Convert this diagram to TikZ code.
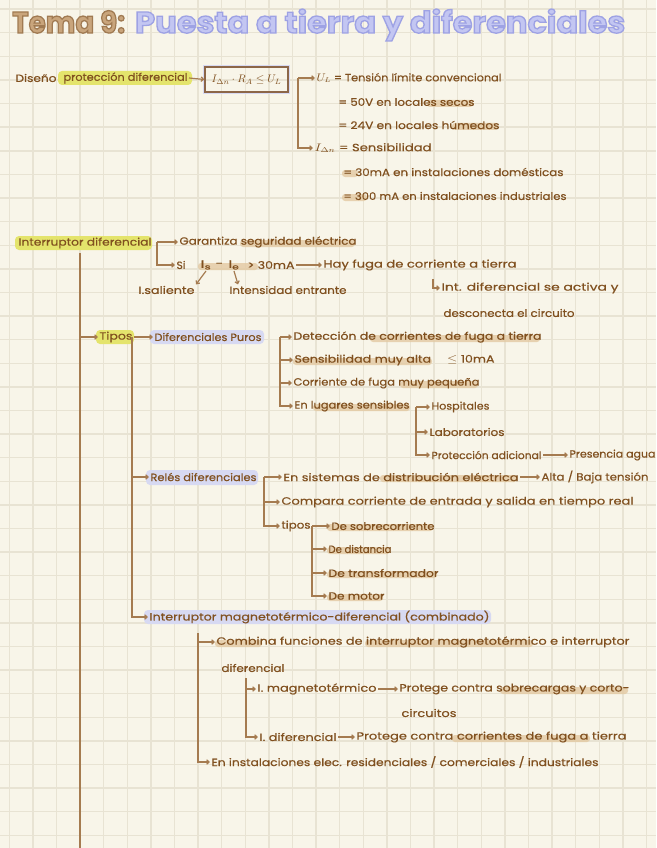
\documentclass[tikz,border=0pt]{standalone}
\usepackage{fontspec}
\setmainfont{Poppins}
\usepackage{graphicx}
\usetikzlibrary{arrows.meta}
\definecolor{paper}{HTML}{F8F5E9}
\definecolor{gridc}{HTML}{E8E3D3}
\definecolor{ink}{HTML}{80501F}
\definecolor{lnc}{HTML}{A57B50}
\definecolor{hly}{HTML}{E4E46C}
\definecolor{hlv}{HTML}{D7D9F2}
\definecolor{hlt}{HTML}{E3C9A2}
\definecolor{tema}{HTML}{C9A57C}
\definecolor{puesta}{HTML}{C3C6F2}
\definecolor{boxc}{HTML}{8C6648}
\newcommand\fw[2]{\resizebox{#1pt}{\height}{#2}}
\newcommand\outl[3]{{\color{#3}\special{pdf:literal direct 2 Tr 1.3 w #2 RG}#1\special{pdf:literal direct 0 Tr}}}
\begin{document}
\begin{tikzpicture}[x=1pt,y=-1pt,
 hand/.style={anchor=west,inner sep=0pt,outer sep=1.5pt,text=ink,font=\fontsize{10.5}{12}\selectfont\addfontfeatures{FakeBold=0.5}},
 ln/.style={draw=lnc,line width=1.2pt},
 arr/.style={ln,-{Straight Barb[length=2.5pt,width=4.5pt]}},
 hy/.style={fill=hly,rounded corners=4pt},
 hv/.style={fill=hlv,rounded corners=4pt},
 ht/.style={fill=hlt,fill opacity=0.8,rounded corners=3pt},
 ttl/.style={anchor=base west,inner sep=0pt,font=\fontsize{30}{30}\selectfont\bfseries},
]
\fill[paper] (0,0) rectangle (656,848);
\useasboundingbox (0,0) rectangle (656,848);
\foreach \k in {0,...,27} \draw[gridc,line width=1.4pt] ({9.3+23.6*\k},0) -- ({9.3+23.6*\k},848);
\foreach \k in {0,...,35} \draw[gridc,line width=1.4pt] (0,{9.2+23.6*\k}) -- (656,{9.2+23.6*\k});

% title
\node[ttl] (tema) at (12,33) {\resizebox{113pt}{\height}{\outl{Tema 9:}{0.627 0.478 0.322}{tema}}};
\node[ttl] (puesta) at (135,33) {\resizebox{490pt}{\height}{\outl{Puesta a tierra y diferenciales}{0.62 0.635 0.894}{puesta}}};

% highlights
\fill[hy] (58,71) rectangle (192,85);
\fill[hy] (15,236) rectangle (152,250);
\fill[hy] (96,330) rectangle (134,344);
\fill[hv] (150,330) rectangle (264,344);
\fill[hv] (146,470) rectangle (258,485);
\fill[hv] (144,610) rectangle (491,624);
\foreach \a/\b/\y in {427/473/102, 452/498/125, 342/358/172, 342/367/196, 240/355/242, 198/258/265,
  370/540/337, 293/432/360, 400/478/383, 313/410/406, 380/517/477, 327/433/526, 327/390/549,
  327/437/573, 327/383/596, 365/533/642, 215/262/642, 500/628/689, 452/590/737}
  \fill[ht] (\a,\y-2) rectangle (\b,\y+5);

% formula box
\draw[hlv,line width=1.6pt] (203.5,65.5) rectangle (289.5,93.5);
\node[draw=boxc,line width=1.2pt,minimum width=83pt,minimum height=25pt,inner sep=0pt,text=ink] (F) at (246.5,79.5) {\resizebox{70pt}{!}{$I_{\Delta n}\cdot R_A\leq U_L$}};

% texts
\node[hand] (dis) at (14,78) {\fw{41}{Diseño}};
\node[hand] (pd) at (62,78) {\fw{124}{protección diferencial}};
\node[hand] (ul) at (315,78) {\fw{185}{$U_L$ = Tensión límite convencional}};
\node[hand] (v50) at (337,102) {\fw{136}{= 50V en locales secos}};
\node[hand] (v24) at (337,125) {\fw{161}{= 24V en locales húmedos}};
\node[hand] (idn) at (313,148) {\fw{117}{$I_{\Delta n}$ = Sensibilidad}};
\node[hand] (m30) at (342,172) {\fw{220}{= 30mA en instalaciones domésticas}};
\node[hand] (m300) at (342,196) {\fw{223}{= 300 mA en instalaciones industriales}};

\node[hand] (id) at (17,243) {\fw{133}{Interruptor diferencial}};
\node[hand] (gar) at (178,242) {\fw{177}{Garantiza seguridad eléctrica}};
\node[hand] (si) at (175,265) {\fw{9}{Si}};
\node[hand] (is) at (199,265) {\fw{11}{I\textsubscript{s}}};
\node[hand] (mi) at (214,265) {–};
\node[hand] (ie) at (227,265) {\fw{11}{I\textsubscript{e}}};
\node[hand] (gt) at (246,265) {\fw{47}{> 30mA}};
\node[hand] (hay) at (322,265) {\fw{193}{Hay fuga de corriente a tierra}};
\node[hand] (sal) at (137,290) {\fw{56}{I.saliente}};
\node[hand] (ent) at (228,290) {\fw{117}{Intensidad entrante}};
\node[hand] (act) at (440,288) {\fw{177}{Int. diferencial se activa y}};
\node[hand] (desc) at (442,313) {\fw{131}{desconecta el circuito}};

\node[hand] (tip) at (98,337) {\fw{33}{Tipos}};
\node[hand] (dp) at (153,337) {\fw{107}{Diferenciales Puros}};
\node[hand] (det) at (292,337) {\fw{248}{Detección de corrientes de fuga a tierra}};
\node[hand] (sen) at (293,360) {\fw{200}{Sensibilidad muy alta \quad $\leq$ 10mA}};
\node[hand] (cor) at (292,383) {\fw{186}{Corriente de fuga muy pequeña}};
\node[hand] (lug) at (293,406) {\fw{115}{En lugares sensibles}};
\node[hand] (hos) at (430,407) {\fw{58}{Hospitales}};
\node[hand] (lab) at (428,432) {\fw{75}{Laboratorios}};
\node[hand] (pad) at (430,455) {\fw{110}{Protección adicional}};
\node[hand] (pre) at (568,455) {\fw{86}{Presencia agua}};

\node[hand] (rel) at (149,477) {\fw{106}{Relés diferenciales}};
\node[hand] (sis) at (282,477) {\fw{235}{En sistemas de distribución eléctrica}};
\node[hand] (alt) at (540,477) {\fw{107}{Alta / Baja tensión}};
\node[hand] (com) at (280,502) {\fw{352}{Compara corriente de entrada y salida en tiempo real}};
\node[hand] (tps) at (280,526) {\fw{29}{tipos}};
\node[hand] (sob) at (330,526) {\fw{103}{De sobrecorriente}};
\node[hand] (dst) at (327,549) {\fw{63}{De distancia}};
\node[hand] (tra) at (327,573) {\fw{110}{De transformador}};
\node[hand] (mot) at (327,596) {\fw{56}{De motor}};

\node[hand] (imd) at (148,617) {\fw{340}{Interruptor magnetotérmico-diferencial (combinado)}};
\node[hand] (cmb) at (215,642) {\fw{413}{Combina funciones de interruptor magnetotérmico e interruptor}};
\node[hand] (cmb2) at (220,668) {\fw{63}{diferencial}};
\node[hand] (imag) at (256,689) {\fw{119}{I. magnetotérmico}};
\node[hand] (prot1) at (398,689) {\fw{230}{Protege contra sobrecargas y corto-}};
\node[hand] (circ) at (400,713) {\fw{55}{circuitos}};
\node[hand] (idif) at (258,737) {\fw{77}{I. diferencial}};
\node[hand] (prot2) at (355,737) {\fw{270}{Protege contra corrientes de fuga a tierra}};
\node[hand] (ins) at (210,762) {\fw{387}{En instalaciones elec. residenciales / comerciales / industriales}};

% connectors
\draw[arr] (pd.east) -- (F.west);
\coordinate (b1) at (298,78);
\draw[arr] (b1) -- (ul.west);
\draw[arr] (b1) |- (idn.west);

\coordinate (b2) at (157,242);
\draw[arr] (b2) -- (gar.west);
\draw[arr] (b2) |- (si.west);
\draw[arr] (gt.east) -- (hay.west);
\draw[arr] (is.south) -- (sal.north east);
\draw[arr] (ie.south) -- ([xshift=10pt]ent.north west);
\coordinate (h0) at (433,279);
\draw[arr] (h0) |- (act.west);

\coordinate (m0) at (80,253);
\coordinate (m1) at (80,848);
\draw[ln] (m0) -- (m1);
\draw[arr] (m0) |- (tip.west);

\coordinate (t0) at (132,337);
\draw[arr] (tip.east) -- (dp.west);
\draw[arr] (t0) |- (rel.west);
\draw[arr] (t0) |- (imd.west);

\coordinate (d0) at (280,337);
\foreach \n in {det,sen,cor,lug} \draw[arr] (d0) |- (\n.west);
\coordinate (s0) at (416,407);
\foreach \n in {hos,lab,pad} \draw[arr] (s0) |- (\n.west);
\draw[arr] (pad.east) -- (pre.west);

\coordinate (r0) at (264,477);
\foreach \n in {sis,com,tps} \draw[arr] (r0) |- (\n.west);
\draw[arr] (sis.east) -- (alt.west);
\coordinate (k0) at (312,526);
\foreach \n in {sob,dst,tra,mot} \draw[arr] (k0) |- (\n.west);

\coordinate (i0) at (198,633);
\draw[arr] (i0) |- (cmb.west);
\draw[arr] (i0) |- (ins.west);
\coordinate (c0) at (246,678);
\draw[arr] (c0) |- (imag.west);
\draw[arr] (c0) |- (idif.west);
\draw[arr] (imag.east) -- (prot1.west);
\draw[arr] (idif.east) -- (prot2.west);
\end{tikzpicture}
\end{document}
